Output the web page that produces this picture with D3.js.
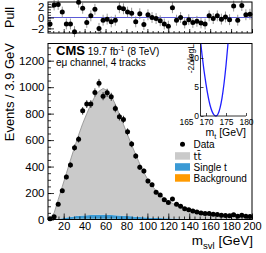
<!DOCTYPE html>
<html>
<head>
<meta charset="utf-8">
<script src="https://cdn.jsdelivr.net/npm/d3@7/dist/d3.min.js"></script>
<style>
body{margin:0;background:#fff}
svg{display:block;font-family:"Liberation Sans",Arial,Helvetica,sans-serif}
</style>
</head>
<body>
<div class="chartWrapper"></div>
<script>
// m_svl binning: 50 bins of 3.9 GeV from 5 to 200
var binEdges = [5, 200];
var binWidth = 3.9;
var dataCounts = [5,21,115,217,321,411,543,606,821,872,872,960,1030,932,957,927,839,776,756,663,
                  570,479,394,366,290,262,205,185,150,128,155,115,100,82,74,64,57,50,45,45,
                  40,38,33,31,28,36,24,32,24,22];
var ttbarValues = [5,48,144,239,334,430,522,611,694,767,836,895,934,954,939,901,838,765,690,614,
                   541,469,401,338,284,241,206,177,152,131,114,99,88,78,70,62,55,50,45,41,
                   37,34,32,29,27,25,23,21,20,18];
var singleTopValues = [0,1,4,7,11,15,19,23,26,28,29,30,31,31,31,29,27,26,24,22,
                       20,18,16,14,13,11,10,9,8,7,6,5,4,4,3,3,3,2,2,2,
                       2,2,1,1,1,1,1,1,1,1];
var backgroundValues = [0,1,2,3,4,4,5,5,5,5,5,5,5,5,5,5,5,4,4,4,
                        4,3,3,3,3,3,2,2,2,2,2,2,2,1,1,1,1,1,1,1,
                        1,1,1,1,1,1,1,1,1,1];
var pullValues = [-1.2,2.3,2.4,1.0,-1.2,-1.2,-2.6,2.8,1.7,-0.9,0.3,1.5,-2.0,-0.5,-0.3,-0.8,-0.5,1.8,1.6,1.0,
                  0.8,-0.8,0.7,-1.3,0.5,0.0,-0.2,-0.6,-1.2,-1.6,1.8,-0.5,0.0,-1.0,-0.4,-0.9,-0.7,-1.0,-1.2,0.3,
                  -0.2,0.3,-0.3,0.1,-0.4,2.1,-0.5,2.2,0.5,0.6];
// likelihood scan in the inset
var scanMass = [168.7,169,170,171,172,172.5,173,174,175,175.5];
var scanValues = [12.5,10.6,5.5,1.9,0.2,0,0.35,3.1,8.7,12.5];

var mainYTicks = [0,200,400,600,800,1000,1200];
var xTicks = [20,40,60,80,100,120,140,160,180,200];
var pullTicks = [-2,0,2];
var insetXTicks = [165,170,175,180];
var insetYTicks = [0,5,10];
var legendLabels = ['Data','t\u0074\u0304','Single t','Background'];

var W = 266, H = 253;
var frame = {left:48, right:252, top:43.5, bottom:219.5};
var pullFrame = {left:48, right:252, top:2, bottom:33};
var inset = {left:186, axisX:200.5, right:246, top:43.5, bottom:116};
var colors = {tt:'#cacaca', ttLine:'#8c8c8c', st:'#3a9ad5', bkg:'#ff9a00', pullLine:'#5b5bd6', scan:'#1f1fff'};

var svg = d3.select('.chartWrapper').append('svg').attr('width',W).attr('height',H);

var centers = d3.range(dataCounts.length).map(function(i){ return binEdges[0] + binWidth*(i+0.5); });

var x = d3.scaleLinear().domain(binEdges).range([frame.left, frame.right]);
var y = d3.scaleLinear().domain([0,1330]).range([frame.bottom, frame.top]);
var yPull = d3.scaleLinear().domain([-2.85,2.85]).range([pullFrame.bottom, pullFrame.top]);
var intFmt = d3.format('d');

// ---------- stacked MC ----------
var stackRows = centers.map(function(c,i){
    return {c:c, bkg:backgroundValues[i], st:singleTopValues[i], tt:ttbarValues[i]};
});
var series = d3.stack().keys(['bkg','st','tt'])(stackRows);
var area = d3.area()
    .x(function(d){ return x(d.data.c); })
    .y0(function(d){ return y(d[0]); })
    .y1(function(d){ return y(d[1]); });
var fills = {bkg:colors.bkg, st:colors.st, tt:colors.tt};

svg.append('clipPath').attr('id','mainClip').append('rect')
   .attr('x',frame.left).attr('y',frame.top)
   .attr('width',frame.right-frame.left).attr('height',frame.bottom-frame.top);

var mc = svg.append('g').attr('clip-path','url(#mainClip)');
mc.selectAll('path.stack')
  .data(series)
  .enter()
  .append('path')
  .attr('class','stack')
  .attr('fill',function(d){ return fills[d.key]; })
  .attr('d',area);
mc.append('path')
  .datum(series[2])
  .attr('fill','none')
  .attr('stroke',colors.ttLine)
  .attr('stroke-width',0.8)
  .attr('d',d3.line().x(function(d){ return x(d.data.c); }).y(function(d){ return y(d[1]); }));

// ---------- data points ----------
var pts = svg.append('g');
pts.selectAll('line')
   .data(dataCounts)
   .enter()
   .append('line')
   .attr('x1',function(d,i){ return x(centers[i]); })
   .attr('x2',function(d,i){ return x(centers[i]); })
   .attr('y1',function(d){ return y(d + Math.sqrt(d)); })
   .attr('y2',function(d){ return y(Math.max(0,d - Math.sqrt(d))); })
   .attr('stroke','#222').attr('stroke-width',0.9);
pts.selectAll('circle')
   .data(dataCounts)
   .enter()
   .append('circle')
   .attr('cx',function(d,i){ return x(centers[i]); })
   .attr('cy',function(d){ return y(d); })
   .attr('r',2.5)
   .attr('fill','#000');

// ---------- main axes ----------
function tickAxis(g, axis, size){
    g.call(axis);
    g.select('.domain').remove();
    g.selectAll('line').attr('stroke','#000').attr('stroke-width',0.8);
    g.selectAll('text').attr('font-size',size || '11.5px').attr('fill','#000')
     .attr('font-family','"Liberation Sans",Arial,sans-serif');
}
svg.append('g').attr('transform','translate('+frame.left+',0)')
   .call(tickAxis, d3.axisLeft(y).tickValues(d3.range(0,1331,50)).tickSize(-3).tickFormat(''));
svg.append('g').attr('transform','translate('+frame.left+',0)')
   .call(tickAxis, d3.axisLeft(y).tickValues(mainYTicks).tickSize(-6).tickPadding(3.5).tickFormat(intFmt));
svg.append('g').attr('transform','translate(0,'+frame.bottom+')')
   .call(tickAxis, d3.axisBottom(x).tickValues(d3.range(10,201,5)).tickSize(-3).tickFormat(''));
svg.append('g').attr('class','xAxis').attr('transform','translate(0,'+frame.bottom+')')
   .call(tickAxis, d3.axisBottom(x).tickValues(xTicks).tickSize(-6).tickFormat(intFmt), '11px');
svg.select('.xAxis').selectAll('text').attr('dy','0.72em').attr('y',3);

svg.append('rect').attr('x',frame.left).attr('y',frame.top)
   .attr('width',frame.right-frame.left).attr('height',frame.bottom-frame.top)
   .attr('fill','none').attr('stroke','#000').attr('stroke-width',1);

// ---------- pull panel ----------
svg.append('line').attr('x1',pullFrame.left).attr('x2',pullFrame.right)
   .attr('y1',yPull(0)).attr('y2',yPull(0))
   .attr('stroke',colors.pullLine).attr('stroke-width',1);
var pg = svg.append('g');
pg.selectAll('line')
  .data(pullValues)
  .enter()
  .append('line')
  .attr('x1',function(d,i){ return x(centers[i]); })
  .attr('x2',function(d,i){ return x(centers[i]); })
  .attr('y1',function(d){ return yPull(d+1); })
  .attr('y2',function(d){ return yPull(d-1); })
  .attr('stroke','#8a8a8a').attr('stroke-width',0.9);
pg.selectAll('circle')
  .data(pullValues)
  .enter()
  .append('circle')
  .attr('cx',function(d,i){ return x(centers[i]); })
  .attr('cy',function(d){ return yPull(d); })
  .attr('r',2.5)
  .attr('fill','#000');
svg.append('g').attr('transform','translate('+pullFrame.left+',0)')
   .call(tickAxis, d3.axisLeft(yPull).tickValues(d3.range(-2.5,2.6,0.5)).tickSize(-3).tickFormat(''));
svg.append('g').attr('transform','translate('+pullFrame.left+',0)')
   .call(tickAxis, d3.axisLeft(yPull).tickValues(pullTicks).tickSize(-6).tickPadding(3.5).tickFormat(intFmt));
svg.append('g').attr('transform','translate(0,'+pullFrame.bottom+')')
   .call(tickAxis, d3.axisBottom(x).tickValues(d3.range(10,201,5)).tickSize(-2).tickFormat(''));
svg.append('g').attr('transform','translate(0,'+pullFrame.bottom+')')
   .call(tickAxis, d3.axisBottom(x).tickValues(xTicks).tickSize(-4).tickFormat(''));
svg.append('rect').attr('x',pullFrame.left).attr('y',pullFrame.top)
   .attr('width',pullFrame.right-pullFrame.left).attr('height',pullFrame.bottom-pullFrame.top)
   .attr('fill','none').attr('stroke','#000').attr('stroke-width',1);

// ---------- titles ----------
svg.append('text').attr('transform','translate(13.5,17.5) rotate(-90)')
   .attr('text-anchor','middle').attr('font-size','12.5px').text('Pull');
svg.append('text').attr('transform','translate(14,43) rotate(-90)')
   .attr('text-anchor','end').attr('font-size','13px').text('Events / 3.9 GeV');
var xt = svg.append('text').attr('x',253).attr('y',245).attr('text-anchor','end').attr('font-size','13.5px');
xt.append('tspan').text('m');
xt.append('tspan').attr('font-size','9.5px').attr('dy',3.5).text('svl');
xt.append('tspan').attr('dy',-3.5).text(' [GeV]');

var cms = svg.append('text').attr('x',56).attr('y',54.5);
cms.append('tspan').attr('font-weight','bold').attr('font-size','13px').text('CMS');
cms.append('tspan').attr('font-size','10px').text(' 19.7 fb');
cms.append('tspan').attr('font-size','7px').attr('dy',-4).text('-1');
cms.append('tspan').attr('font-size','10px').attr('dy',4).text(' (8 TeV)');
svg.append('text').attr('x',56).attr('y',65.5).attr('font-size','10px').text('e\u03bc channel, 4 tracks');

// ---------- legend ----------
var legendY = [147.5,159.5,170.5,181.5];
var lg = svg.append('g');
lg.append('circle').attr('cx',182.5).attr('cy',144.2).attr('r',2.5).attr('fill','#000');
lg.selectAll('rect')
  .data([colors.tt,colors.st,colors.bkg])
  .enter()
  .append('rect')
  .attr('x',175).attr('width',15).attr('height',7.5)
  .attr('y',function(d,i){ return legendY[i+1]-7.3; })
  .attr('fill',function(d){ return d; });
lg.selectAll('text')
  .data(legendLabels)
  .enter()
  .append('text')
  .attr('x',193.5)
  .attr('y',function(d,i){ return legendY[i]; })
  .attr('font-size','10px')
  .attr('font-family',function(d,i){ return i === 1 ? '"DejaVu Sans",sans-serif' : null; })
  .text(function(d){ return d; });

// ---------- inset ----------
var xi = d3.scaleLinear().domain([165,180]).range([inset.left, inset.right]);
var yi = d3.scaleLinear().domain([0,12.5]).range([inset.bottom, inset.top]);
svg.append('clipPath').attr('id','insetClip').append('rect')
   .attr('x',inset.axisX).attr('y',inset.top)
   .attr('width',inset.right-inset.axisX).attr('height',inset.bottom-inset.top+2);
svg.append('path')
   .datum(scanMass)
   .attr('clip-path','url(#insetClip)')
   .attr('fill','none').attr('stroke',colors.scan).attr('stroke-width',1.3)
   .attr('d',d3.line().curve(d3.curveMonotoneX)
      .x(function(d){ return xi(d); })
      .y(function(d,i){ return yi(scanValues[i]); }));
function insetAxis(g, axis){
    g.call(axis);
    g.select('.domain').remove();
    g.selectAll('line').attr('stroke','#000').attr('stroke-width',0.7);
    g.selectAll('text').attr('font-size','8.5px').attr('fill','#000')
     .attr('font-family','"Liberation Sans",Arial,sans-serif');
}
svg.append('g').attr('transform','translate('+inset.axisX+',0)')
   .call(insetAxis, d3.axisLeft(yi).tickValues(insetYTicks).tickSize(-3).tickPadding(1.5));
var ixAxis = svg.append('g').attr('transform','translate(0,'+inset.bottom+')')
   .call(insetAxis, d3.axisBottom(xi).tickValues(insetXTicks).tickSize(-3).tickPadding(2.5));
ixAxis.selectAll('.tick line').filter(function(d){ return xi(d) < inset.axisX; }).remove();
svg.append('line').attr('x1',inset.axisX).attr('x2',inset.axisX)
   .attr('y1',inset.top).attr('y2',inset.bottom).attr('stroke','#000').attr('stroke-width',0.8);
svg.append('line').attr('x1',inset.axisX).attr('x2',inset.right)
   .attr('y1',inset.bottom).attr('y2',inset.bottom).attr('stroke','#000').attr('stroke-width',0.8);
svg.append('text').attr('transform','translate(193.5,44) rotate(-90)')
   .attr('text-anchor','end').attr('font-size','8.5px').text('-2\u0394logL');
var mt = svg.append('text').attr('x',246).attr('y',136).attr('text-anchor','end').attr('font-size','10.5px');
mt.append('tspan').text('m');
mt.append('tspan').attr('font-size','7px').attr('dy',2.5).text('t');
mt.append('tspan').attr('dy',-2.5).text(' [GeV]');
</script>
</body>
</html>
